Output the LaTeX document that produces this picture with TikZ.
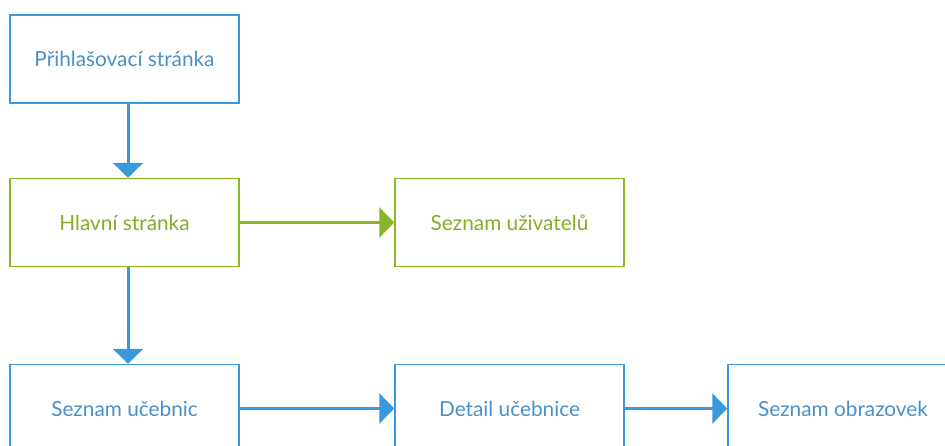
\documentclass[tikz,border=0pt]{standalone}
\usepackage{fontspec}
\setmainfont{Lato}
\usetikzlibrary{arrows.meta}
\definecolor{lineblue}{HTML}{3A98DC}
\definecolor{textblue}{HTML}{4A90C8}
\definecolor{linegreen}{HTML}{8AB526}
\definecolor{textgreen}{HTML}{84AC26}
\tikzset{
  box/.style={draw=lineblue, line width=1.5pt, rectangle, minimum width=229pt, minimum height=88pt, inner sep=0pt, text=textblue, font=\fontsize{20.8}{24}\selectfont},
  gbox/.style={box, draw=linegreen, text=textgreen},
  conn/.style={draw=lineblue, line width=3pt, -{Triangle[length=15pt, width=30pt]}},
  gconn/.style={conn, draw=linegreen}
}
\begin{document}
\begin{tikzpicture}[x=1pt, y=-1pt]
\useasboundingbox (0,0) rectangle (945,445);
\clip (0,0) rectangle (945,445);
\node[box] (login) at (124.5,59) {Přihlašovací stránka};
\node[gbox] (main) at (124.5,222.5) {Hlavní stránka};
\node[gbox] (users) at (509.5,222.5) {Seznam uživatelů};
\node[box] (books) at (124.5,408.5) {Seznam učebnic};
\node[box] (detail) at (509.5,408.5) {Detail učebnice};
\node[box, minimum width=230pt] (screens) at (843,408.5) {Seznam obrazovek};
\draw[conn] ([xshift=3.5pt]login.south) -- ([xshift=3.5pt]main.north);
\draw[gconn] (main) -- (users);
\draw[conn] ([xshift=3.5pt]main.south) -- ([xshift=3.5pt]books.north);
\draw[conn] (books) -- (detail);
\draw[conn] (detail) -- (screens);
\end{tikzpicture}
\end{document}
